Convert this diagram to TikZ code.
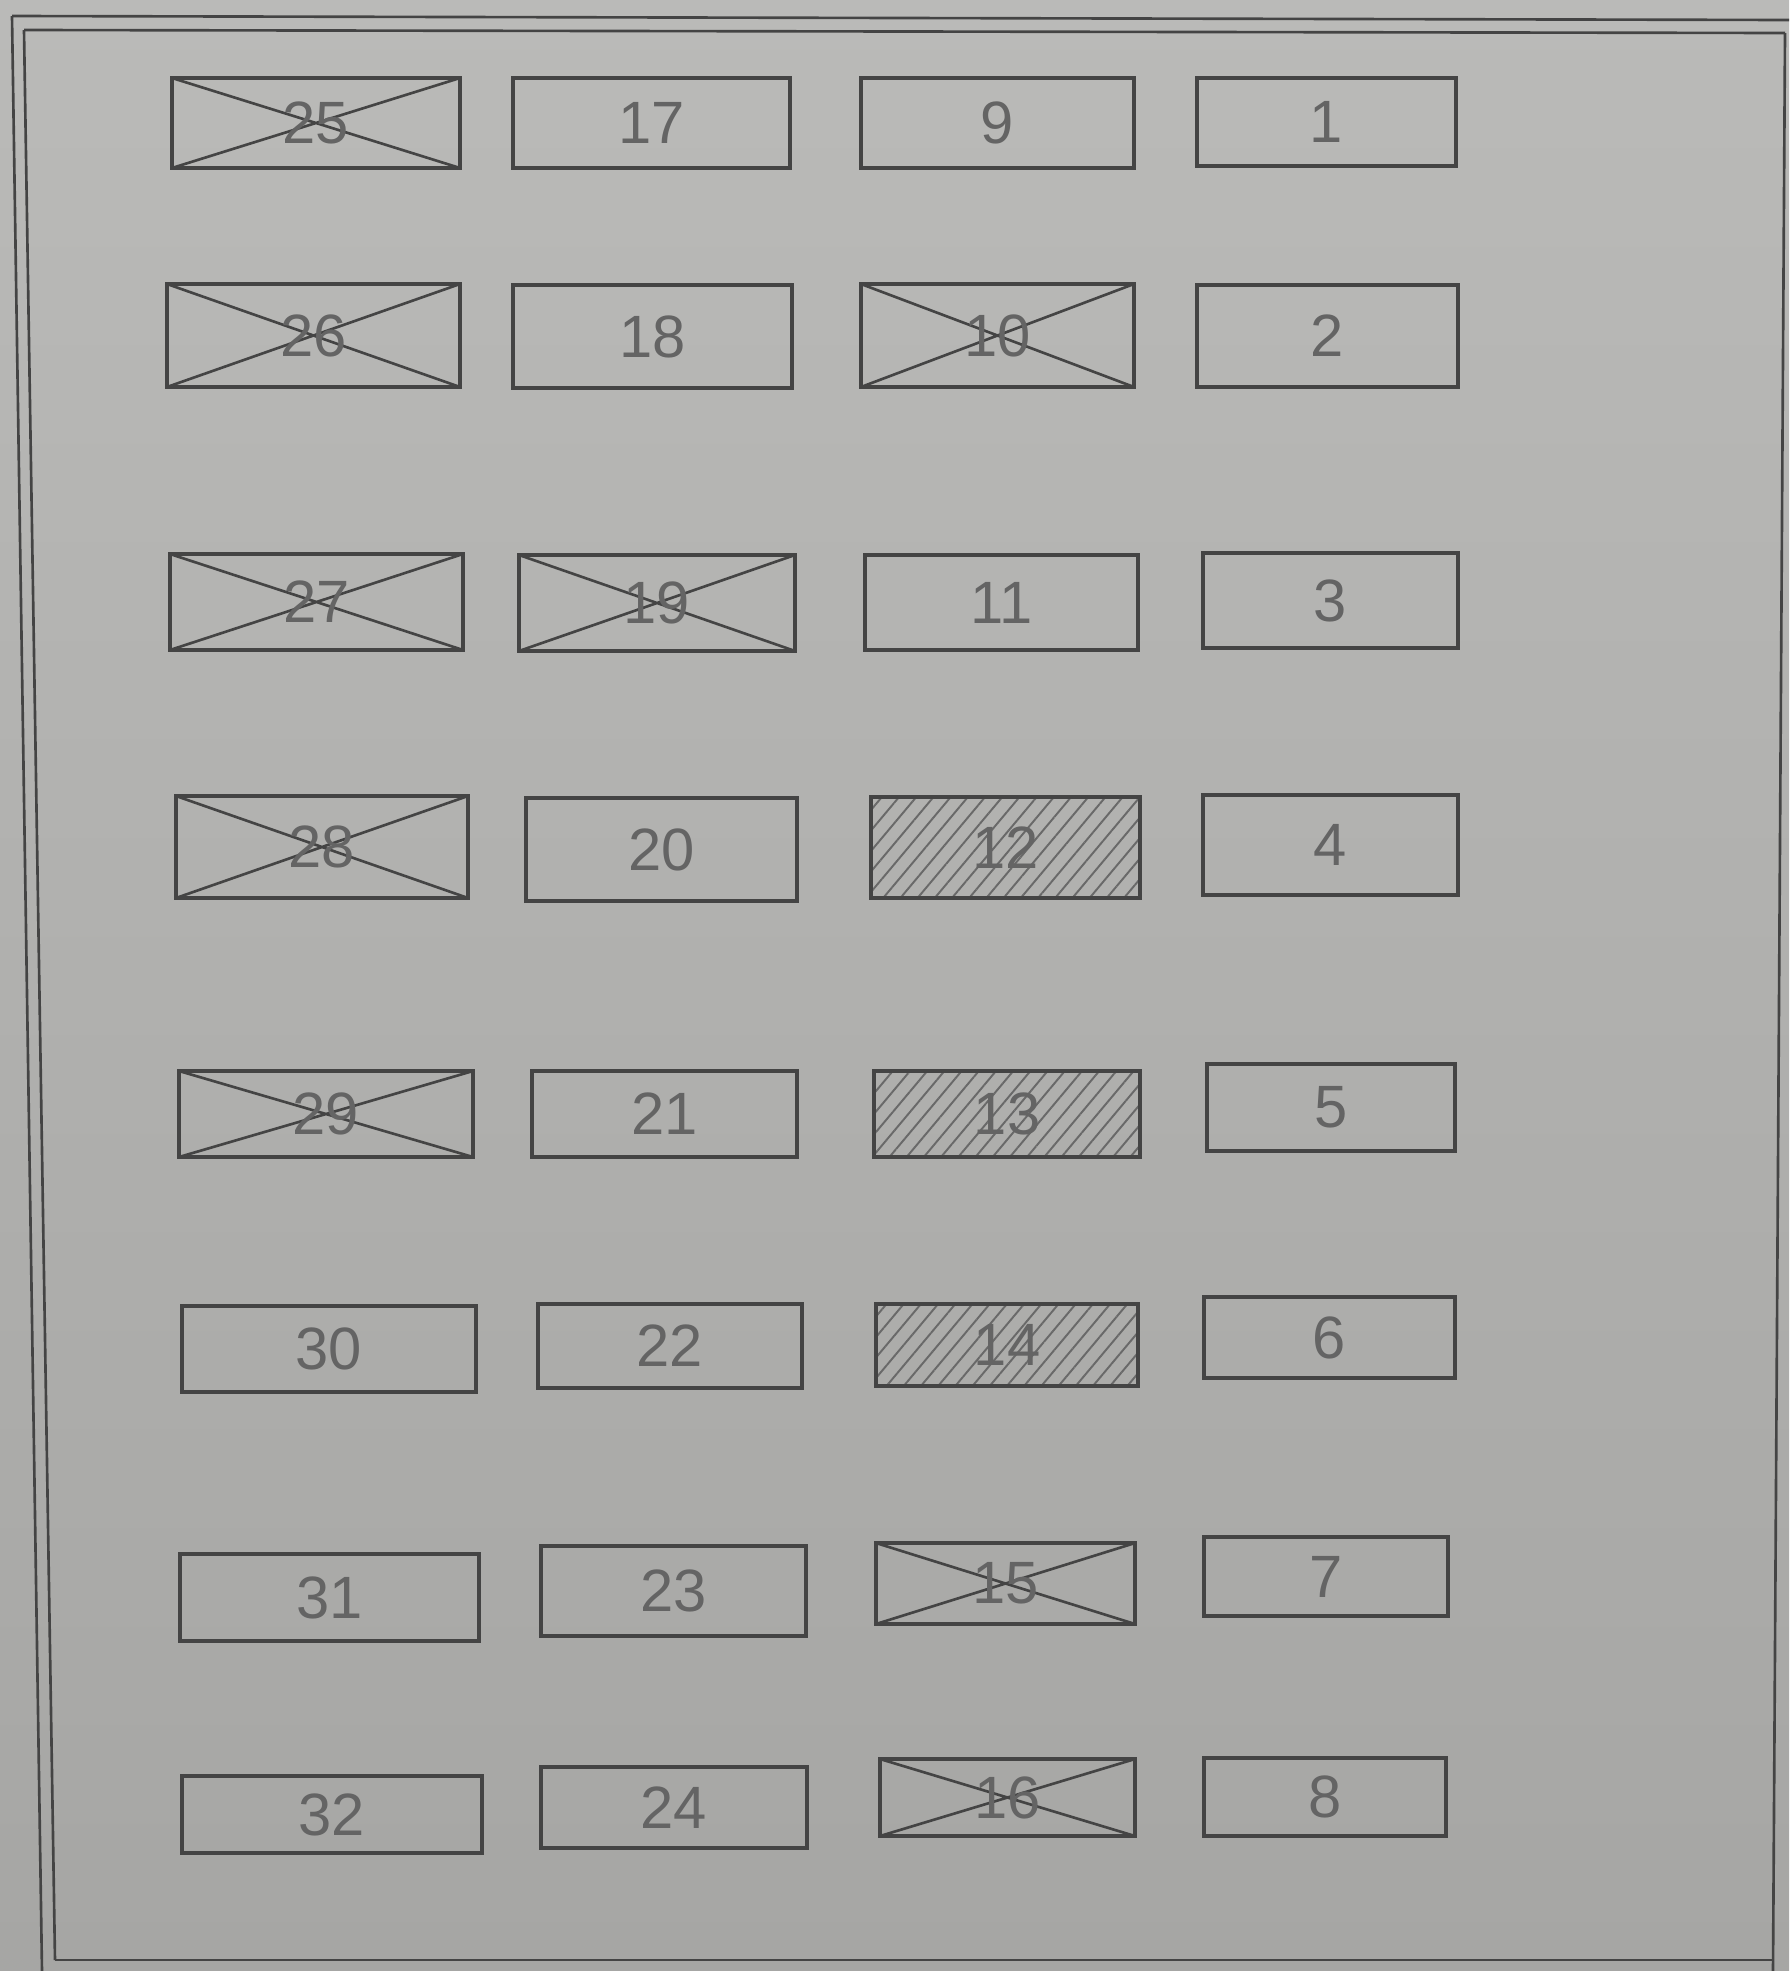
\documentclass[tikz,border=0pt]{standalone}
\usepackage{fontspec}
\setmainfont{Liberation Sans}
\usetikzlibrary{fit,patterns.meta}
\definecolor{paper}{RGB}{176,176,174}
\definecolor{paperlight}{RGB}{186,186,184}
\definecolor{paperdark}{RGB}{166,166,164}
\definecolor{pencil}{RGB}{68,68,68}
\definecolor{pencilsoft}{RGB}{100,100,100}
\tikzset{
  x=0.02cm, y=-0.02cm,
  frame/.style={draw=pencil, line width=1.5pt},
  box/.style={draw=pencil, line width=2.1pt, inner sep=0pt, rectangle},
  lbl/.style={inner sep=0pt, font=\fontsize{34}{38}\selectfont, text=pencilsoft},
  crossed/.style={path picture={\draw[pencil, line width=1.5pt]
    (path picture bounding box.north west) -- (path picture bounding box.south east)
    (path picture bounding box.south west) -- (path picture bounding box.north east);}},
  hatched/.style={pattern={Lines[angle=50,distance=7.5pt,line width=1.1pt]}, pattern color=pencil!80}
}
\newcommand{\bx}[7]{\node[box,#7,fit={(#2,#3) (#4,#5)}] (#1) {};
  \node[lbl] (#1t) at (#1.center) {#6};}
\begin{document}
\begin{tikzpicture}
\shade[top color=paperlight, bottom color=paperdark, middle color=paper] (0,0) rectangle (1789,1971);
\useasboundingbox (0,0) rectangle (1789,1971);
% frame
\coordinate (tl1) at (12,16);
\coordinate (tr1) at (1789,20);
\coordinate (tl2) at (24,30);
\coordinate (tr2) at (1785,33);
\coordinate (bl1) at (42,1971);
\coordinate (bl2) at (55,1960);
\coordinate (br) at (1773,1971);
\coordinate (bb) at (1773,1960);
\draw[frame] (tl1) -- (tr1);
\draw[frame] (tl2) -- (tr2);
\draw[frame] (tl1) -- (bl1);
\draw[frame] (tl2) -- (bl2);
\draw[frame] (tr2) -- (br);
\draw[frame] (bl2) -- (bb);
% row 1
\bx{b25}{172}{78}{460}{168}{25}{crossed}
\bx{b17}{513}{78}{790}{168}{17}{}
\bx{b9}{861}{78}{1134}{168}{9}{}
\bx{b1}{1197}{78}{1456}{166}{1}{}
% row 2
\bx{b26}{167}{284}{460}{387}{26}{crossed}
\bx{b18}{513}{285}{792}{388}{18}{}
\bx{b10}{861}{284}{1134}{387}{10}{crossed}
\bx{b2}{1197}{285}{1458}{387}{2}{}
% row 3
\bx{b27}{170}{554}{463}{650}{27}{crossed}
\bx{b19}{519}{555}{795}{651}{19}{crossed}
\bx{b11}{865}{555}{1138}{650}{11}{}
\bx{b3}{1203}{553}{1458}{648}{3}{}
% row 4
\bx{b28}{176}{796}{468}{898}{28}{crossed}
\bx{b20}{526}{798}{797}{901}{20}{}
\bx{b12}{871}{797}{1140}{898}{12}{hatched}
\bx{b4}{1203}{795}{1458}{895}{4}{}
% row 5
\bx{b29}{179}{1071}{473}{1157}{29}{crossed}
\bx{b21}{532}{1071}{797}{1157}{21}{}
\bx{b13}{874}{1071}{1140}{1157}{13}{hatched}
\bx{b5}{1207}{1064}{1455}{1151}{5}{}
% row 6
\bx{b30}{182}{1306}{476}{1392}{30}{}
\bx{b22}{538}{1304}{802}{1388}{22}{}
\bx{b14}{876}{1304}{1138}{1386}{14}{hatched}
\bx{b6}{1204}{1297}{1455}{1378}{6}{}
% row 7
\bx{b31}{180}{1554}{479}{1641}{31}{}
\bx{b23}{541}{1546}{806}{1636}{23}{}
\bx{b15}{876}{1543}{1135}{1624}{15}{crossed}
\bx{b7}{1204}{1537}{1448}{1616}{7}{}
% row 8
\bx{b32}{182}{1776}{482}{1853}{32}{}
\bx{b24}{541}{1767}{807}{1848}{24}{}
\bx{b16}{880}{1759}{1135}{1836}{16}{crossed}
\bx{b8}{1204}{1758}{1446}{1836}{8}{}
\end{tikzpicture}
\end{document}
